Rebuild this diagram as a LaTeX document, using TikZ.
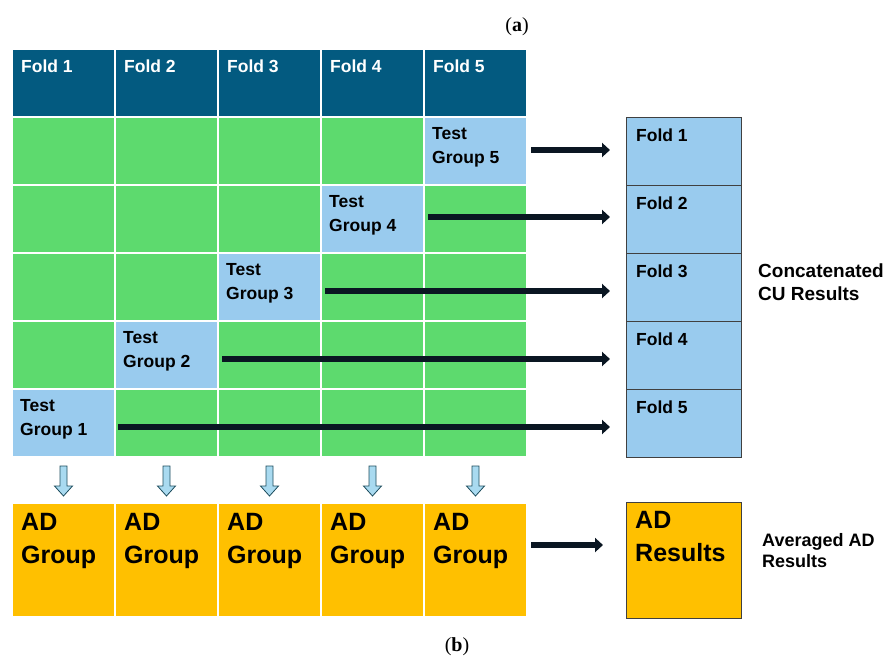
\documentclass[tikz,border=0pt]{standalone}
\usepackage{fontspec}
\setmainfont{Liberation Sans}
\newfontfamily\seriffam{Liberation Serif}
\usetikzlibrary{arrows.meta,calc}
\definecolor{hdr}{HTML}{035A80}
\definecolor{grn}{HTML}{5DDA6E}
\definecolor{lblue}{HTML}{99CBEE}
\definecolor{gold}{HTML}{FFC000}
\definecolor{arrowc}{HTML}{0A1622}
\definecolor{dnfill}{HTML}{A9DAF0}
\definecolor{dnline}{HTML}{1E4D5E}
\begin{document}
\begin{tikzpicture}[x=1pt,y=-1pt,
  cell/.style={draw=white, line width=1.2pt, minimum width=103pt, minimum height=68pt, inner sep=0pt, outer sep=0pt, anchor=north west},
  adcell/.style={cell, fill=gold, minimum height=114pt},
  resbox/.style={draw=black!75, line width=1pt, fill=lblue, minimum width=115pt, minimum height=68pt, inner sep=0pt, outer sep=0pt, anchor=north west},
  lbl/.style={font=\bfseries\fontsize{17.5}{24}\selectfont, anchor=base west, inner sep=0pt, align=left},
  biglbl/.style={font=\bfseries\fontsize{25}{33}\selectfont, anchor=base west, inner sep=0pt, align=left},
  harrow/.style={draw=arrowc, line width=5.5pt, -{Triangle[length=8pt,width=14pt]}},
  dnarrow/.pic={\draw[fill=dnfill, draw=dnline, line width=0.8pt] (-3.5,0) -- (3.5,0) -- (3.5,20) -- (9,20) -- (0,30) -- (-9,20) -- (-3.5,20) -- cycle;}
]
\useasboundingbox (0,0) rectangle (892,659);
\fill[white] (0,0) rectangle (892,659);

% header
\foreach \c in {1,...,5} {
  \node[cell, fill=hdr] (h\c) at ({12+103*(\c-1)},49) {};
  \node[lbl, text=white] (ht\c) at ($(h\c.north west)+(9,23)$) {Fold \c};
}
% grid
\foreach \r in {1,...,5} {
  \foreach \c in {1,...,5} {
    \pgfmathtruncatemacro{\t}{6-\r}
    \ifnum\c=\t \def\fc{lblue}\else\def\fc{grn}\fi
    \node[cell, fill=\fc] (g\r\c) at ({12+103*(\c-1)},{117+68*(\r-1)}) {};
  }
}
\foreach \r in {1,...,5} {
  \pgfmathtruncatemacro{\t}{6-\r}
  \node[lbl] (tg\r) at ($(g\r\t.north west)+(8,46)$) {Test\\Group \t};
}
% result column
\foreach \r in {1,...,5} {
  \node[resbox] (f\r) at (626,{117+68*(\r-1)}) {};
  \node[lbl] (ft\r) at ($(f\r.north west)+(10,24)$) {Fold \r};
}
% arrows to result column
\draw[harrow] ([xshift=4pt,yshift=1pt]g15.east) -- ([xshift=-16pt,yshift=1pt]f1.west);
\draw[harrow] ([xshift=4pt,yshift=2pt]g24.east) -- ([xshift=-16pt,yshift=2pt]f2.west);
\draw[harrow] ([xshift=4pt,yshift=-4pt]g33.east) -- ([xshift=-16pt,yshift=-4pt]f3.west);
\draw[harrow] ([xshift=4pt,yshift=-4pt]g42.east) -- ([xshift=-16pt,yshift=-4pt]f4.west);
\draw[harrow] ([xshift=3pt,yshift=-4pt]g51.east) -- ([xshift=-16pt,yshift=-4pt]f5.west);

% down arrows
\foreach \c in {1,...,5} {
  \pic at ($(g5\c.south)+(0,9)$) {dnarrow};
}
% AD groups
\foreach \c in {1,...,5} {
  \node[adcell] (ad\c) at ({12+103*(\c-1)},503) {};
  \node[biglbl] (adt\c) at ($(ad\c.north west)+(9,60)$) {AD\\Group};
}
\node[resbox, fill=gold, minimum height=116pt] (adr) at (626,502) {};
\node[biglbl] (adrt) at ($(adr.north west)+(9,59)$) {AD\\Results};
\draw[harrow] ([xshift=4pt,yshift=15pt]ad5.east) -- ([xshift=-23pt,yshift=15pt]adr.west);

% side labels
\node[font=\bfseries\fontsize{19}{23}\selectfont, anchor=base west, inner sep=0pt, align=left] (cc) at (758,300) {Concatenated\\CU Results};
\node[font=\bfseries\fontsize{18}{21}\selectfont, anchor=base west, inner sep=0pt, align=left] (avg) at (762,567) {Averaged AD\\Results};

% panel labels
\node[font=\seriffam\fontsize{20}{24}\selectfont, anchor=base, inner sep=0pt] (la) at (517,31) {(\textbf{a})};
\node[font=\seriffam\fontsize{20}{24}\selectfont, anchor=base, inner sep=0pt] (lb) at (457,651) {(\textbf{b})};
\end{tikzpicture}
\end{document}
